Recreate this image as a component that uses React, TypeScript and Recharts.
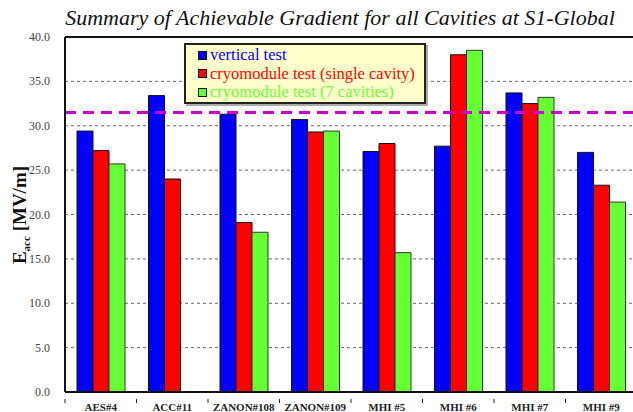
import React from "react";
import {
  BarChart,
  Bar,
  XAxis,
  YAxis,
  CartesianGrid,
  ReferenceLine
} from "recharts";

const categories = ["AES#4", "ACC#11", "ZANON#108", "ZANON#109", "MHI #5", "MHI #6", "MHI #7", "MHI #9"];
const verticalTest = [29.4, 33.4, 31.3, 30.7, 27.1, 27.7, 33.7, 27.0];
const singleCavity = [27.2, 24.0, 19.1, 29.3, 28.0, 38.0, 32.5, 23.3];
const sevenCavities = [25.7, null, 18.0, 29.4, 15.7, 38.5, 33.2, 21.4];
const majorTicks = [0, 5, 10, 15, 20, 25, 30, 35, 40];
const minorTicks = [
  0, 1, 2, 3, 4, 5, 6, 7, 8, 9, 10, 11, 12, 13, 14, 15, 16, 17, 18, 19, 20,
  21, 22, 23, 24, 25, 26, 27, 28, 29, 30, 31, 32, 33, 34, 35, 36, 37, 38, 39, 40
];
const goalGradient = 31.5;

const COLORS = {
  vertical: "#0000ff",
  single: "#ff0000",
  seven: "#66ff33"
};

const SERIF = "Liberation Serif";

const data = categories.map((name, i) => ({
  name,
  vertical: verticalTest[i],
  single: singleCavity[i],
  seven: sevenCavities[i]
}));

const legendRows = [
  { label: "vertical test", color: COLORS.vertical },
  { label: "cryomodule test (single cavity)", color: COLORS.single },
  { label: "cryomodule test (7 cavities)", color: COLORS.seven }
];

const CHART_W = 641;
const CHART_H = 412;
const MARGIN = { top: 37, right: 4, bottom: 0, left: 0 };
const Y_W = 65;
const BAND = (CHART_W - MARGIN.left - MARGIN.right - Y_W) / categories.length;

function XTick(props: any) {
  const { x, y, payload } = props;
  return (
    <g>
      <line x1={x - BAND / 2} x2={x - BAND / 2} y1={y - 1} y2={y + 3} stroke="#222" />
      <text
        x={x}
        y={y + 11}
        textAnchor="middle"
        fontFamily={SERIF}
        fontWeight="bold"
        fontSize={11}
        fill="#222"
      >
        {payload.value}
      </text>
    </g>
  );
}

function YTick(props: any) {
  const { x, y, payload } = props;
  return (
    <text x={x - 2} y={y + 4} textAnchor="end" fontFamily={SERIF} fontSize={12} fill="#444">
      {Number(payload.value).toFixed(1)}
    </text>
  );
}

function NoTick() {
  return <g />;
}

function YLabel() {
  return (
    <text
      transform="translate(26,215) rotate(-90)"
      textAnchor="middle"
      fontFamily={SERIF}
      fontWeight="bold"
      fontSize={19}
      fill="#111"
    >
      E
      <tspan fontSize={11} dy={4}>acc</tspan>
      <tspan dy={-4}> [MV/m]</tspan>
    </text>
  );
}

export default function App() {
  return (
    <div
      style={{
        position: "absolute",
        left: 0,
        top: 0,
        width: 633,
        height: 412,
        overflow: "hidden",
        background: "#fff"
      }}
    >
      <div
        style={{
          position: "absolute",
          left: 0,
          top: 5,
          width: 680,
          textAlign: "center",
          fontFamily: SERIF,
          fontStyle: "italic",
          fontSize: 22,
          color: "#111"
        }}
      >
        Summary of Achievable Gradient for all Cavities at S1-Global
      </div>
      <BarChart
        width={CHART_W}
        height={CHART_H}
        data={data}
        margin={MARGIN}
        barCategoryGap={12}
        barGap={0}
      >
        <CartesianGrid
          vertical={false}
          stroke="#666"
          strokeDasharray="3 3"
          yAxisId="main"
        />
        <XAxis
          dataKey="name"
          height={20}
          tickLine={false}
          axisLine={{ stroke: "#111", strokeWidth: 2 }}
          tick={<XTick />}
          interval={0}
        />
        <YAxis
          yAxisId="main"
          width={Y_W}
          domain={[0, 40]}
          ticks={majorTicks}
          tick={<YTick />}
          tickLine={false}
          tickMargin={7}
          axisLine={{ stroke: "#111", strokeWidth: 2 }}
          label={<YLabel />}
        />
        <YAxis
          yAxisId="minor"
          width={0}
          domain={[0, 40]}
          ticks={minorTicks}
          mirror
          tick={<NoTick />}
          tickSize={3}
          tickLine={{ stroke: "#777" }}
          axisLine={false}
          interval={0}
        />
        <ReferenceLine yAxisId="main" y={40} stroke="#111" strokeWidth={2} />
        <Bar
          yAxisId="main"
          dataKey="vertical"
          name="vertical test"
          fill={COLORS.vertical}
          stroke="#111"
          strokeWidth={1}
          isAnimationActive={false}
        />
        <Bar
          yAxisId="main"
          dataKey="single"
          name="cryomodule test (single cavity)"
          fill={COLORS.single}
          stroke="#111"
          strokeWidth={1}
          isAnimationActive={false}
        />
        <Bar
          yAxisId="main"
          dataKey="seven"
          name="cryomodule test (7 cavities)"
          fill={COLORS.seven}
          stroke="#333"
          strokeWidth={1}
          isAnimationActive={false}
        />
        <ReferenceLine
          yAxisId="main"
          y={goalGradient}
          stroke="#cc00cc"
          strokeWidth={3}
          strokeDasharray="11 7"
        />
      </BarChart>
      <div
        style={{
          position: "absolute",
          left: 184,
          top: 43,
          width: 242,
          boxSizing: "border-box",
          background: "#ffffcc",
          border: "2px solid #222",
          boxShadow: "2px 2px 0 #aaa",
          padding: "1px 4px 0 12px",
          fontFamily: SERIF,
          fontSize: 16.5,
          lineHeight: "18.5px",
          whiteSpace: "nowrap"
        }}
      >
        {legendRows.map((r) => (
          <div key={r.label} style={{ display: "flex", alignItems: "center", color: r.color }}>
            <span
              style={{
                display: "inline-block",
                width: 7,
                height: 7,
                background: r.color,
                border: "1px solid #111",
                marginRight: 3
              }}
            />
            {r.label}
          </div>
        ))}
      </div>
    </div>
  );
}
